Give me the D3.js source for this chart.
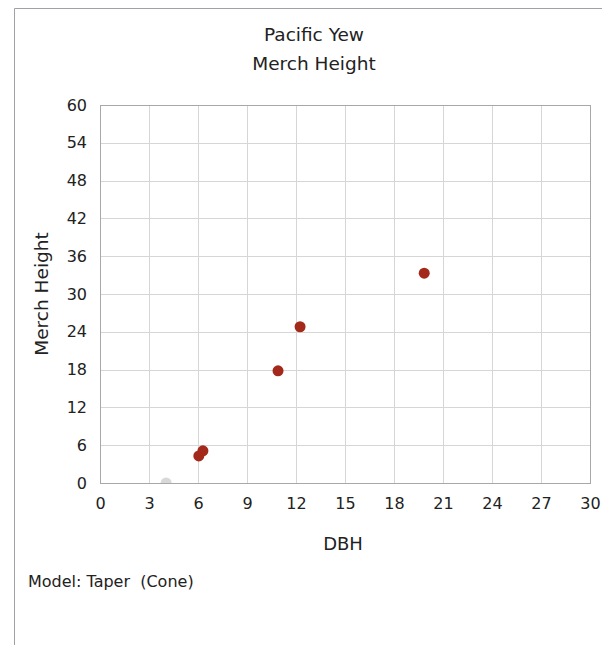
<!DOCTYPE html>
<html>
<head>
<meta charset="utf-8">
<script src="https://cdn.jsdelivr.net/npm/d3@7"></script>
<style>
  body { margin: 0; background: #fff; }
  svg text { font-family: "DejaVu Sans", Verdana, sans-serif; fill: #222; }
</style>
</head>
<body>
<div id="chart"></div>
<script>
// data
const dbh = [6.05, 6.3, 10.9, 12.25, 19.85];
const merchHeight = [4.3, 5.1, 17.8, 24.8, 33.3];
const excludedDbh = [4.05];
const excludedHeight = [0];
const xTicks = [0, 3, 6, 9, 12, 15, 18, 21, 24, 27, 30];
const yTicks = [0, 6, 12, 18, 24, 30, 36, 42, 48, 54, 60];

const width = 602;
const height = 645;
const margin = { top: 105, right: 12, bottom: 162, left: 100 };

const svg = d3.select('#chart')
    .append('svg')
    .attr('width', width)
    .attr('height', height);

// panel frame (top and left edges only visible)
svg.append('path')
    .attr('d', `M14.5,${height} L14.5,8.5 L${width},8.5`)
    .attr('fill', 'none')
    .attr('stroke', '#a0a0a8')
    .attr('stroke-width', 1);

const x = d3.scaleLinear().domain([0, 30]).range([margin.left, width - margin.right]);
const y = d3.scaleLinear().domain([0, 60]).range([height - margin.bottom, margin.top]);

// clip for plot area
svg.append('clipPath').attr('id', 'plot-clip')
    .append('rect')
    .attr('x', x(0)).attr('y', y(60))
    .attr('width', x(30) - x(0)).attr('height', y(0) - y(60));

// gridlines
const grid = svg.append('g');
grid.selectAll('.vgrid')
    .data(xTicks)
    .enter().append('line')
    .attr('x1', d => Math.round(x(d)) + 0.5).attr('x2', d => Math.round(x(d)) + 0.5)
    .attr('y1', y(0)).attr('y2', y(60))
    .attr('stroke', '#d6d6d6');
grid.selectAll('.hgrid')
    .data(yTicks)
    .enter().append('line')
    .attr('y1', d => Math.round(y(d)) + 0.5).attr('y2', d => Math.round(y(d)) + 0.5)
    .attr('x1', x(0)).attr('x2', x(30))
    .attr('stroke', '#d6d6d6');

// points
const pts = svg.append('g').attr('clip-path', 'url(#plot-clip)');
pts.selectAll('.excluded')
    .data(excludedDbh.map((d, i) => [d, excludedHeight[i]]))
    .enter().append('circle')
    .attr('cx', d => x(d[0])).attr('cy', d => y(d[1]))
    .attr('r', 5.5)
    .attr('fill', '#d8d8d8');
pts.selectAll('.pt')
    .data(dbh.map((d, i) => [d, merchHeight[i]]))
    .enter().append('circle')
    .attr('cx', d => x(d[0])).attr('cy', d => y(d[1]))
    .attr('r', 5.5)
    .attr('fill', '#a32a1b');

// plot border
svg.append('rect')
    .attr('x', Math.round(x(0)) + 0.5).attr('y', Math.round(y(60)) + 0.5)
    .attr('width', Math.round(x(30) - x(0))).attr('height', Math.round(y(0) - y(60)))
    .attr('fill', 'none')
    .attr('stroke', '#a8a8a8');

// axes
const xAxis = svg.append('g')
    .attr('transform', `translate(0,${y(0)})`)
    .call(d3.axisBottom(x).tickValues(xTicks).tickSize(0).tickPadding(15));
xAxis.select('.domain').remove();
xAxis.selectAll('text').style('font-size', '16px').attr('fill', '#222');

const yAxis = svg.append('g')
    .attr('transform', `translate(${x(0)},0)`)
    .call(d3.axisLeft(y).tickValues(yTicks).tickSize(0).tickPadding(13));
yAxis.select('.domain').remove();
yAxis.selectAll('text').style('font-size', '16px').attr('fill', '#222');

// titles
svg.append('text')
    .attr('x', 314).attr('y', 41)
    .attr('text-anchor', 'middle')
    .style('font-size', '18.5px')
    .text('Pacific Yew');
svg.append('text')
    .attr('x', 314).attr('y', 70)
    .attr('text-anchor', 'middle')
    .style('font-size', '18.5px')
    .text('Merch Height');

svg.append('text')
    .attr('x', 343).attr('y', 550)
    .attr('text-anchor', 'middle')
    .style('font-size', '18px')
    .text('DBH');

svg.append('text')
    .attr('transform', `translate(48,${(y(0) + y(60)) / 2}) rotate(-90)`)
    .attr('text-anchor', 'middle')
    .style('font-size', '18.5px')
    .text('Merch Height');

svg.append('text')
    .attr('x', 28).attr('y', 587)
    .style('font-size', '16px')
    .attr('xml:space', 'preserve')
    .style('white-space', 'pre')
    .text('Model: Taper  (Cone)');
</script>
</body>
</html>
